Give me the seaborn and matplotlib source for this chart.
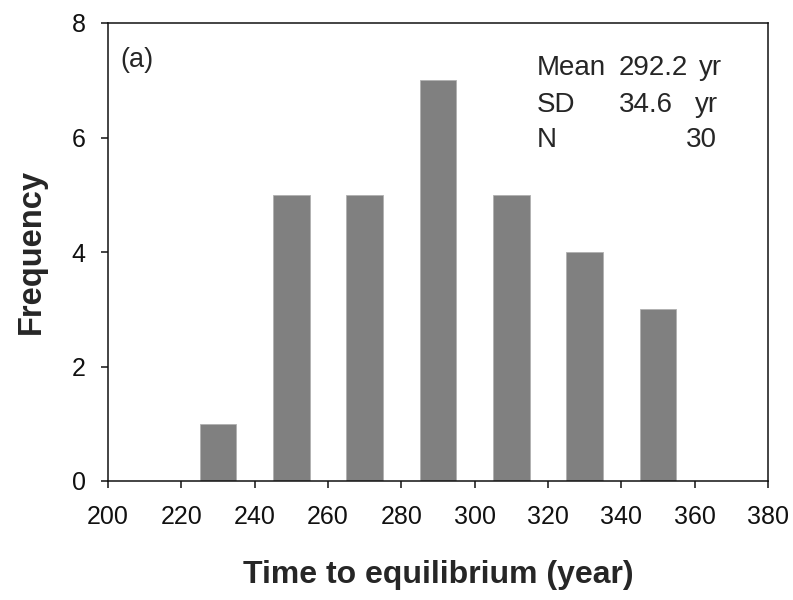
import matplotlib
matplotlib.use("Agg")
import matplotlib.pyplot as plt
import seaborn as sns
import pandas as pd

# Data
bin_centers = [230, 250, 270, 290, 310, 330, 350]
frequency = [1, 5, 5, 7, 5, 4, 3]
x_ticks = [200, 220, 240, 260, 280, 300, 320, 340, 360, 380]
y_ticks = [0, 2, 4, 6, 8]
stat_names = ["Mean", "SD", "N"]
stat_values = ["292.2", "34.6", "30"]
stat_units = ["yr", "yr", ""]

sns.set_style("ticks")
plt.rcParams['font.family'] = ['Liberation Sans', 'DejaVu Sans']

fig = plt.figure(figsize=(7.93, 6.0), dpi=100)
ax = fig.add_axes([108/793, 1-481/600, 660/793, 458/600])

df = pd.DataFrame({"t": bin_centers, "f": frequency})
sns.barplot(data=df, x="t", y="f", native_scale=True, width=0.5, orient="x",
            color="#808080", saturation=1, edgecolor="#b0b0b0", linewidth=0.6, ax=ax)

ax.set_xlim(200, 380)
ax.set_ylim(0, 8)
ax.set_xticks(x_ticks)
ax.set_yticks(y_ticks)
ax.tick_params(axis='both', direction='out', labelsize=18, colors='#111111',
               width=1.1, length=5)
ax.tick_params(axis='x', pad=12)
ax.tick_params(axis='y', pad=11)
for s in ax.spines.values():
    s.set_visible(True)
    s.set_linewidth(1.1)
    s.set_color('#111111')

ax.set_xlabel("Time to equilibrium (year)", fontsize=23, fontweight='bold')
ax.set_ylabel("Frequency", fontsize=23.5, fontweight='bold')
ax.xaxis.set_label_coords(0.5, -0.172)
ax.yaxis.set_label_coords(-0.092, 0.5)

ax.text(0.018, 0.904, "(a)", transform=ax.transAxes, fontsize=19.5, va='baseline', ha='left')

ys = [0.8865, 0.8057, 0.729]
for name, val, unit, y in zip(stat_names, stat_values, stat_units, ys):
    ax.text(0.65, y, name, transform=ax.transAxes, fontsize=20, va='baseline', ha='left')
    if unit:
        ax.text(0.774, y, val, transform=ax.transAxes, fontsize=20, va='baseline', ha='left')
        ax.text(0.895 if name == "Mean" else 0.889, y, unit, transform=ax.transAxes,
                fontsize=20, va='baseline', ha='left')
    else:
        ax.text(0.9227, y, val, transform=ax.transAxes, fontsize=20, va='baseline', ha='right')

fig.savefig("out.png", dpi=100)
